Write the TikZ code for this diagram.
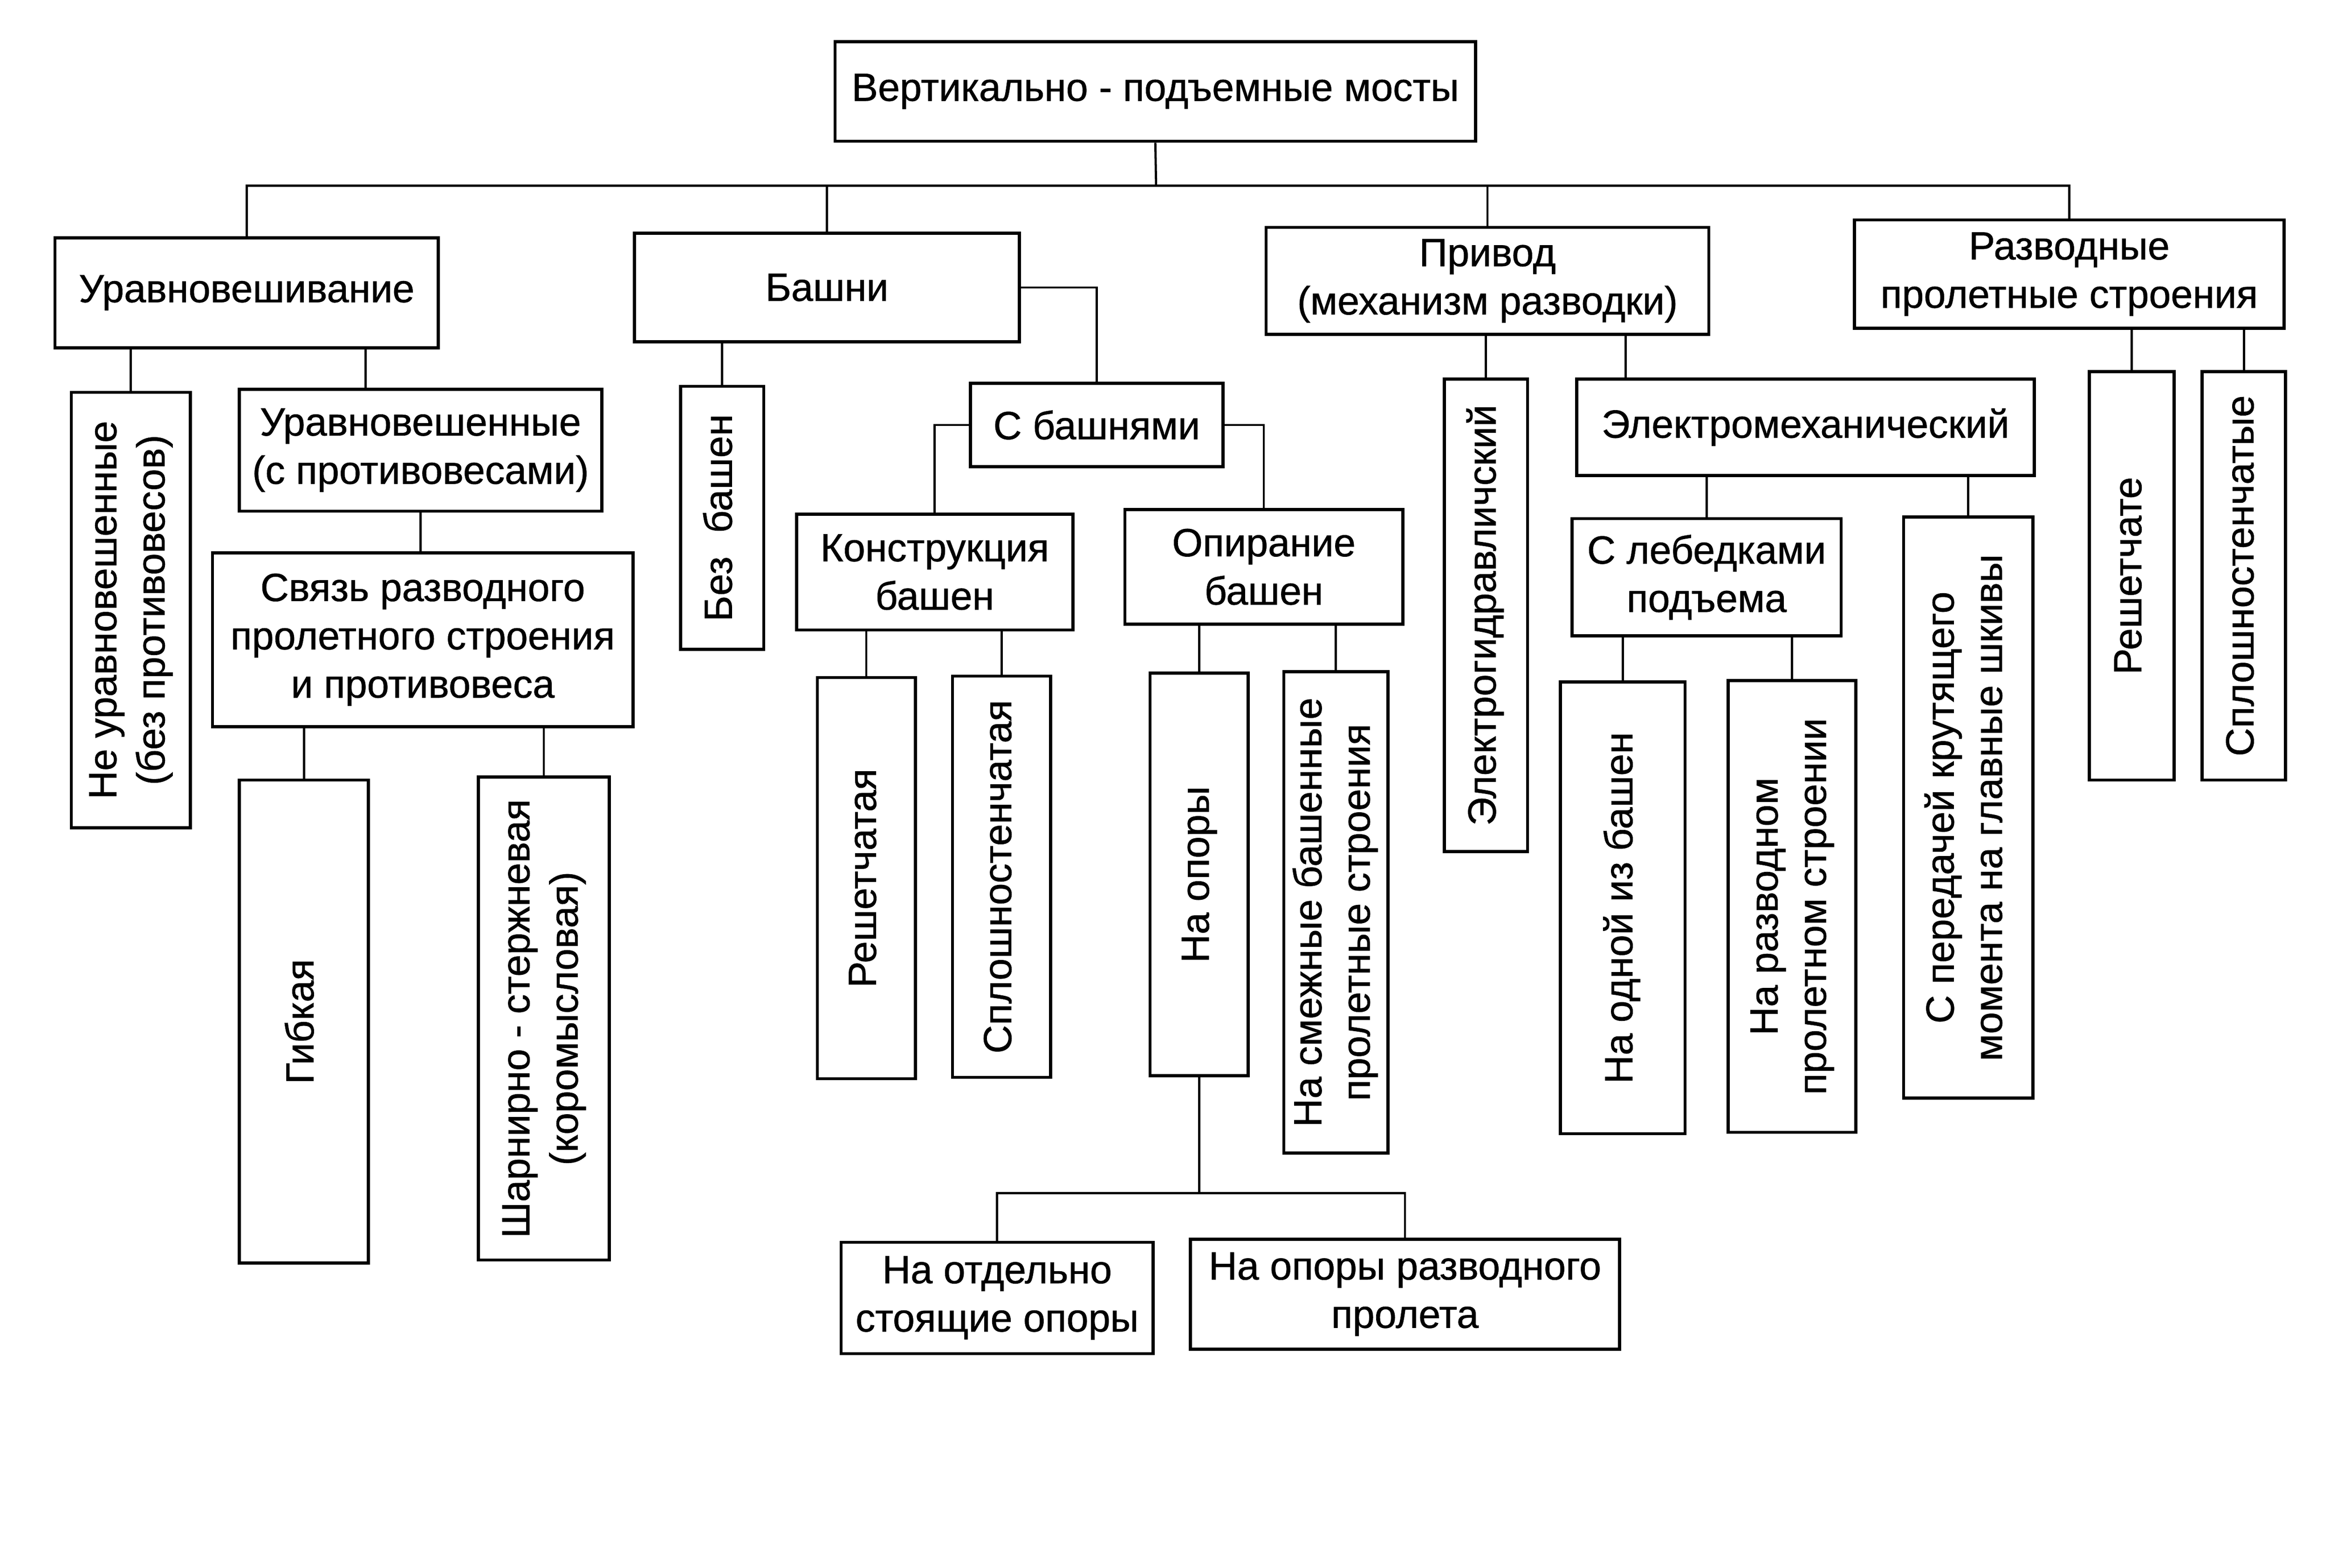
\documentclass[tikz,border=0pt]{standalone}
\usepackage{fontspec}
\setmainfont[FakeBold=0.8]{Liberation Sans}
\usepackage{graphicx}
\newcommand\vt[1]{\rotatebox{90}{\begin{tabular}{@{}c@{}}#1\end{tabular}}}
\newcommand\bx[6]{%
  \pgfmathsetmacro\bxw{#4-#2}\pgfmathsetmacro\bxh{#5-#3}%
  \node[box, minimum width=\bxw pt, minimum height=\bxh pt] (#1) at ({(#2+#4)/2},{(#3+#5)/2}) {#6};}
\begin{document}
\begin{tikzpicture}[x=1pt,y=-1pt,
  box/.style={draw, line width=2.1pt, rectangle, inner sep=0pt, align=center,
    font=\fontsize{26.5}{32.5}\selectfont, fill=white},
  link/.style={line width=1.5pt}]
\useasboundingbox (0,0) rectangle (1568,1055);
\fill[white] (0,0) rectangle (1568,1055);
% boxes
\bx{root}{562}{28}{993}{95}{Вертикально - подъемные мосты}
\bx{ur}{37}{160}{295}{234}{Уравновешивание}
\bx{ba}{427}{157}{686}{230}{Башни}
\bx{pr}{852}{153}{1150}{225}{Привод\\(механизм разводки)}
\bx{rz}{1248}{148}{1537}{221}{Разводные\\пролетные строения}
\bx{nu}{48}{264}{128}{557}{\vt{Не уравновешенные\\(без противовесов)}}
\bx{uw}{161}{262}{405}{344}{Уравновешенные\\(с противовесами)}
\bx{sv}{143}{372}{426}{489}{Связь разводного\\пролетного строения\\и противовеса}
\bx{gb}{161}{525}{248}{850}{\vt{Гибкая}}
\bx{sh}{322}{523}{410}{848}{\vt{Шарнирно - стержневая\\(коромысловая)}}
\bx{bb}{458}{260}{514}{437}{\vt{Без\hspace{0.6em}башен}}
\bx{sb}{653}{258}{823}{314}{С башнями}
\bx{kb}{536}{346}{722}{424}{Конструкция\\башен}
\bx{ob}{757}{343}{944}{420}{Опирание\\башен}
\bx{rs}{550}{456}{616}{726}{\vt{Решетчатая}}
\bx{sl}{641}{455}{707}{725}{\vt{Сплошностенчатая}}
\bx{no}{774}{453}{840}{724}{\vt{На опоры}}
\bx{sm}{864}{452}{934}{776}{\vt{На смежные башенные\\пролетные строения}}
\bx{ot}{566}{836}{776}{911}{На отдельно\\стоящие опоры}
\bx{op}{801}{834}{1090}{908}{На опоры разводного\\пролета}
\bx{eg}{972}{255}{1028}{573}{\vt{Электрогидравличский}}
\bx{em}{1061}{255}{1369}{320}{Электромеханический}
\bx{lb}{1058}{349}{1239}{428}{С лебедками\\подъема}
\bx{od}{1050}{459}{1134}{763}{\vt{На одной из башен}}
\bx{rp}{1163}{458}{1249}{762}{\vt{На разводном\\пролетном строении}}
\bx{sp}{1281}{348}{1368}{739}{\vt{С передачей крутящего\\момента на главные шкивы}}
\bx{rsh}{1406}{250}{1463}{525}{\vt{Решетчате}}
\bx{sq}{1482}{250}{1538}{525}{\vt{Сплошностенчатые}}
% connectors
\coordinate (bus) at (778,125);
\draw[link] (root.south) -- (bus);
\draw[link] (ur.north) -- (ur.north |- bus) -- (rz.north |- bus) -- (rz.north);
\draw[link] (ba.north) -- (ba.north |- bus);
\draw[link] (pr.north) -- (pr.north |- bus);
% balancing
\draw[link] (nu.north |- ur.south) -- (nu.north);
\coordinate (c1) at (246,0);
\draw[link] (c1 |- ur.south) -- (c1 |- uw.north);
\draw[link] (uw.south) -- (uw.south |- sv.north);
\draw[link] (gb.north |- sv.south) -- (gb.north);
\draw[link] (sh.north |- sv.south) -- (sh.north);
% towers
\draw[link] (bb.north |- ba.south) -- (bb.north);
\draw[link] (ba.east) -| (sb.north);
\draw[link] (sb.west) -| (kb.north);
\draw[link] (sb.east) -| (ob.north);
\draw[link] (rs.north |- kb.south) -- (rs.north);
\draw[link] (sl.north |- kb.south) -- (sl.north);
\draw[link] (no.north |- ob.south) -- (no.north);
\draw[link] (sm.north |- ob.south) -- (sm.north);
\coordinate (jb) at (807,803);
\draw[link] (no.south) -- (no.south |- jb);
\draw[link] (ot.north) -- (ot.north |- jb) -- (op.north |- jb) -- (op.north);
% drive
\draw[link] (eg.north |- pr.south) -- (eg.north);
\coordinate (c2) at (1094,0);
\draw[link] (c2 |- pr.south) -- (c2 |- em.north);
\draw[link] (lb.north |- em.south) -- (lb.north);
\draw[link] (sp.north |- em.south) -- (sp.north);
\draw[link] (od.north |- lb.south) -- (od.north);
\draw[link] (rp.north |- lb.south) -- (rp.north);
% spans
\draw[link] (rsh.north |- rz.south) -- (rsh.north);
\draw[link] (sq.north |- rz.south) -- (sq.north);
\end{tikzpicture}
\end{document}
